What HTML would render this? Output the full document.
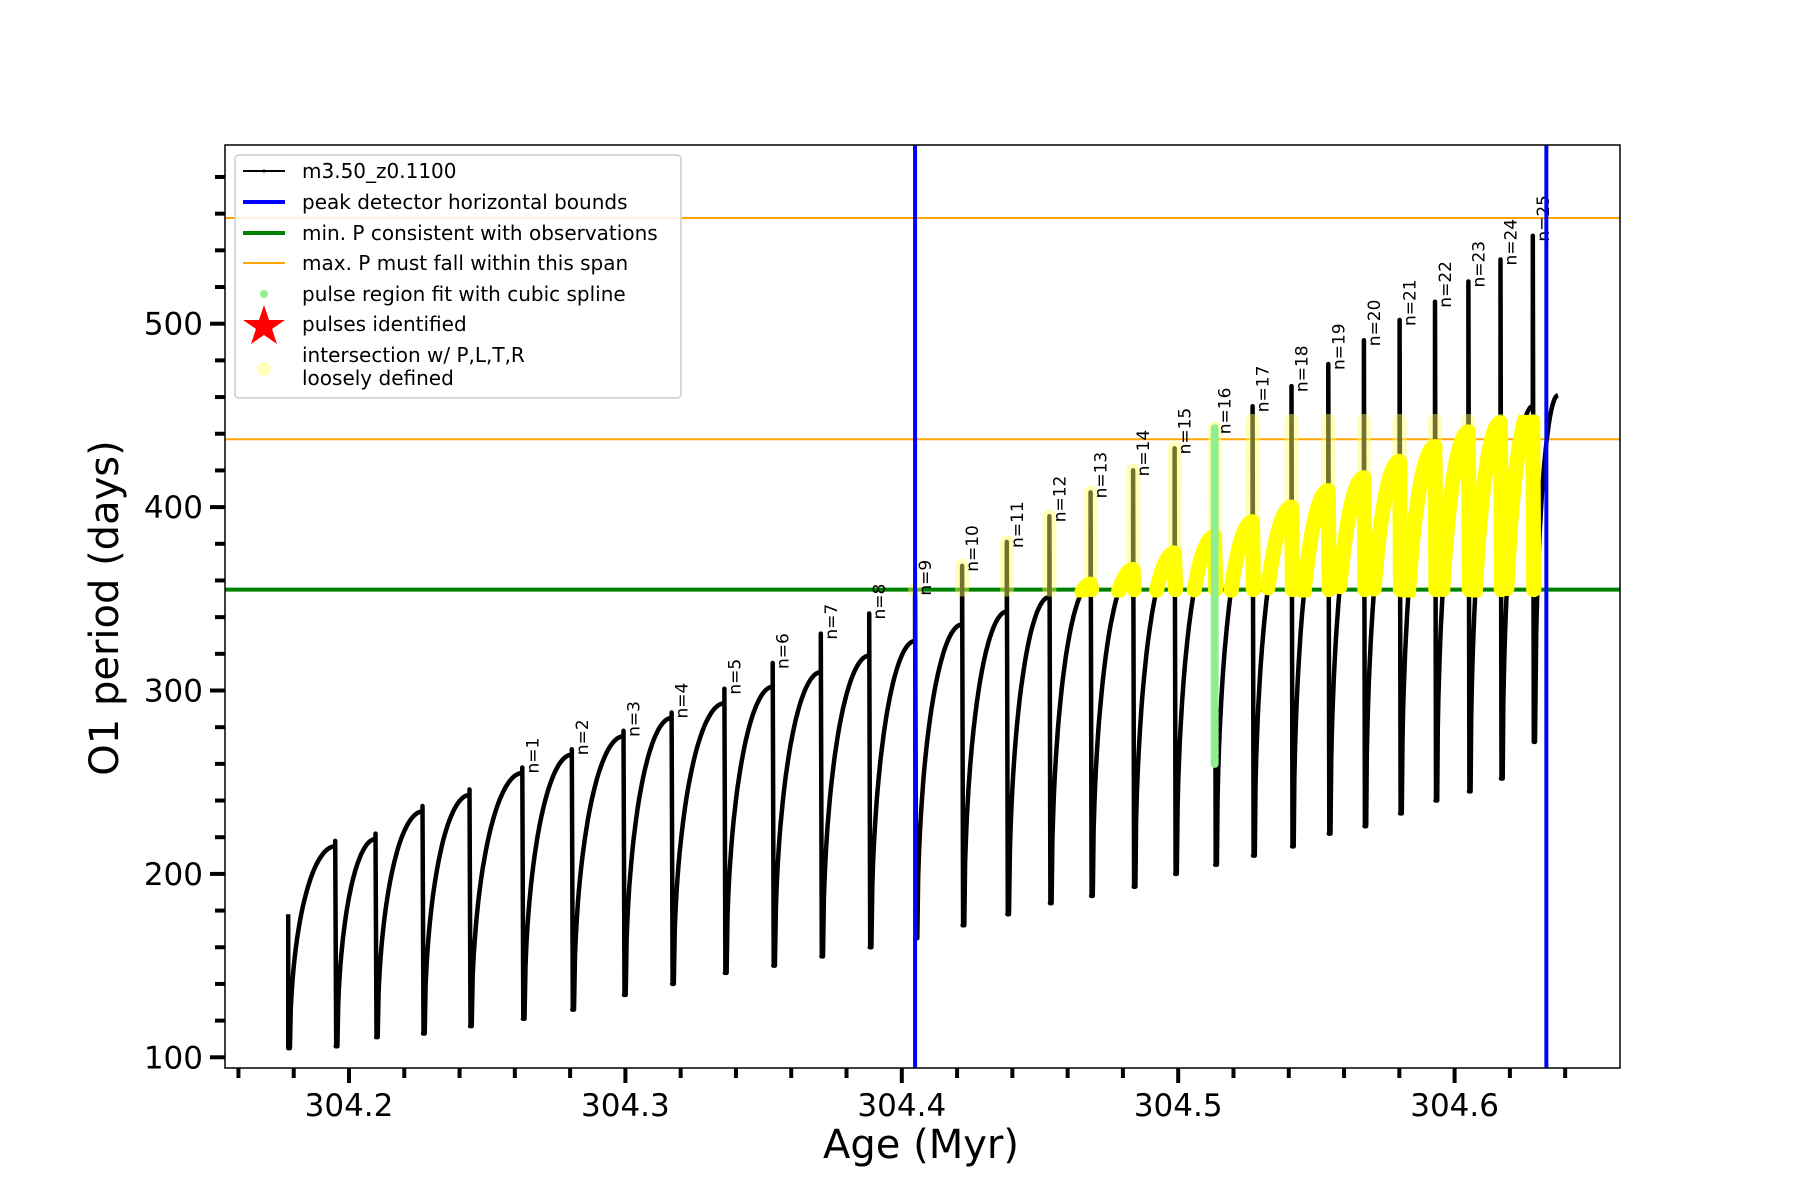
<!DOCTYPE html>
<html><head><meta charset="utf-8"><style>
html,body{margin:0;padding:0;background:#fff;}
svg{display:block;font-family:"DejaVu Sans","Liberation Sans",sans-serif;}
</style></head><body>
<svg id="chart" width="1800" height="1200" viewBox="0 0 1800 1200">
<defs><clipPath id="plotclip"><rect x="225" y="145" width="1395" height="923"/></clipPath>
<clipPath id="yclip"><rect x="0" y="0" width="1800" height="1"/></clipPath></defs>
<rect x="0" y="0" width="1800" height="1200" fill="#fff"/>
<g id="plot" clip-path="url(#plotclip)"></g>
<g id="axes"></g>
</svg>
<script>
const dropAges=[304.1950,304.2096,304.2266,304.2436,304.2627,304.2806,304.2993,304.3167,304.3358,304.3533,304.3707,304.3882,304.4048,304.4218,304.4380,304.4534,304.4683,304.4837,304.4987,304.5132,304.5269,304.5410,304.5543,304.5672,304.5801,304.5929,304.6050,304.6166,304.6283];
const peakValues=[215,219,234,243,255,265,275,285,293,302,310,319,327,336,343,351,358,366,375,384,392,400,409,416,425,433,441,446,455];
const minValues=[106,111,113,117,121,126,134,140,146,150,155,160,165,172,178,184,188,193,200,205,210,215,222,226,233,240,245,252,272];
const spikeTops=[218,222,237,246,258,268,278,288,301,315,331,342,355,368,381,395,408,420,432,443,455,466,478,491,502,512,523,535,548];
const startAge=304.1780, startTop=178, startMin=105;
const endAge=304.6374, endValue=461;
const blueBounds=[304.4048,304.6332];
const greenLevel=355;
const orangeLevels=[437,557.6];
const xTicks=[304.2,304.3,304.4,304.5,304.6];
const yTicks=[100,200,300,400,500];
const splineAge=304.5132, splineRange=[260,443];

const X=a=>349+(a-304.2)*2764;
const Y=v=>1057.3-(v-100)*1.834;
const NS="http://www.w3.org/2000/svg";
function mk(tag,parent,attrs){const e=document.createElementNS(NS,tag);for(const k in attrs)e.setAttribute(k,attrs[k]);parent.appendChild(e);return e;}
const plot=document.getElementById('plot'), axes=document.getElementById('axes');
const L=225,R=1620,T=145,B=1068;

orangeLevels.forEach((v,i)=>{const l=mk('line',plot,{x1:L,x2:R,y1:Y(v),y2:Y(v),stroke:'#ffa500','stroke-width':2});

});
const gl=mk('line',plot,{x1:L,x2:R,y1:Y(greenLevel),y2:Y(greenLevel),stroke:'#008000','stroke-width':4});



const f=u=>Math.sqrt(1-Math.pow(1-u,2));
let pts=[];
let cycles=[];
let prevAge=startAge, prevMin=startMin;
pts.push([X(startAge),Y(startTop)]);
for(let i=0;i<dropAges.length;i++){
  const a0=prevAge+0.0006, a1=dropAges[i];
  let cyc=[];
  for(let k=0;k<=50;k++){const u=k/50;const a=a0+(a1-a0)*u;const v=prevMin+(peakValues[i]-prevMin)*f(u);cyc.push([X(a),Y(v),v]);}
  cycles.push(cyc);
  pts.push([X(prevAge),Y(prevMin)]);
  cyc.forEach(p=>pts.push([p[0],p[1]]));
  pts.push([X(a1),Y(spikeTops[i])]);
  pts.push([X(a1)+1,Y(minValues[i])]);
  prevAge=a1+0.0002; prevMin=minValues[i];
}
{const a0=prevAge+0.0006;for(let k=0;k<=20;k++){const u=k/20;pts.push([X(a0+(endAge-a0)*u),Y(prevMin+(endValue-prevMin)*f(u))]);}}
const bl=mk('polyline',plot,{points:pts.map(p=>p[0].toFixed(1)+','+p[1].toFixed(1)).join(' '),fill:'none',stroke:'#000','stroke-width':4.5,'stroke-linejoin':'round'});



for(let i=12;i<dropAges.length;i++){
  const top=Math.min(spikeTops[i],447);
  const r=mk('line',plot,{x1:X(dropAges[i]),x2:X(dropAges[i]),y1:Y(greenLevel),y2:Y(top),stroke:'#ffff66','stroke-opacity':0.45,'stroke-width':14,'stroke-linecap':'round'});
  
  
}
const ytop=Y(447), ybot=Y(greenLevel-1);
const yc=document.getElementById('yclip').firstChild;
yc.setAttribute('y',ytop-6);yc.setAttribute('height',ybot-ytop+12);yc.setAttribute('width',1800);
for(let i=16;i<cycles.length;i++){
  const seg=cycles[i].filter(p=>p[2]>=greenLevel-2&&p[2]<=450);
  if(seg.length<2)continue;
  const last=[X(dropAges[i]),Y(Math.min(peakValues[i],447))];
  const down=[X(dropAges[i])+1,Y(greenLevel)];
  const p=mk('polyline',plot,{points:seg.map(q=>q[0].toFixed(1)+','+q[1].toFixed(1)).join(' ')+' '+last.join(',')+' '+down.join(','),fill:'none',stroke:'#ffff00','stroke-width':15,'stroke-linejoin':'round','stroke-linecap':'round','clip-path':'url(#yclip)'});
  
  
}
const gs=mk('line',plot,{x1:X(splineAge),x2:X(splineAge),y1:Y(splineRange[0]),y2:Y(splineRange[1]),stroke:'#90ee90','stroke-width':8,'stroke-linecap':'round','stroke-dasharray':'6 3'});



for(let i=4;i<dropAges.length;i++){
  const n=i-3;const x=X(dropAges[i])+16, y=Y(Math.max(spikeTops[i],peakValues[i]))+6;
  const t=mk('text',plot,{x:x,y:y,transform:`rotate(-90 ${x} ${y})`,'font-size':17,fill:'#000'});
  t.textContent='n='+n;
  
  
}
blueBounds.forEach((a,i)=>{const l=mk('line',plot,{x1:X(a),x2:X(a),y1:T,y2:B,stroke:'#0000ff','stroke-width':4});

});

mk('rect',axes,{x:L,y:T,width:R-L,height:B-T,fill:'none',stroke:'#000','stroke-width':1.5});
for(let k=-2;k<=23;k++){const a=304.2+k*0.02;const x=X(a);if(x<L||x>R)continue;const major=k%5===0;
  mk('line',axes,{x1:x,x2:x,y1:B,y2:B+(major?15:10),stroke:'#000','stroke-width':4});}
xTicks.forEach(a=>{const t=mk('text',axes,{x:X(a),y:1116,'text-anchor':'middle','font-size':31});t.textContent=a.toFixed(1);

});
for(let v=100;v<=580;v+=20){const y=Y(v);if(y<T)continue;const major=v%100===0;
  mk('line',axes,{x1:L-(major?15:10),x2:L,y1:y,y2:y,stroke:'#000','stroke-width':4});}
yTicks.forEach(v=>{const t=mk('text',axes,{x:203,y:Y(v)+11,'text-anchor':'end','font-size':31});t.textContent=v;

});
</script>
<div style="position:absolute;left:0;top:0;width:1800px;height:1200px;pointer-events:none">
<svg width="1800" height="1200" style="position:absolute;left:0;top:0;font-family:'DejaVu Sans','Liberation Sans',sans-serif">
<text x="921" y="1158" text-anchor="middle" font-size="40">Age (Myr)</text>
<text x="118" y="608" text-anchor="middle" font-size="40" transform="rotate(-90 118 608)">O1 period (days)</text>
<g>
<rect x="235" y="155" width="446" height="243" rx="4" fill="#fff" fill-opacity="0.85" stroke="#ccc" stroke-width="1.5"/>
<g font-size="20" fill="#000">
<line x1="243" y1="171" x2="285" y2="171" stroke="#000" stroke-width="2"/><circle cx="264" cy="171" r="1.5"/>
<text x="302" y="178">m3.50_z0.1100</text>
<line x1="243" y1="202" x2="285" y2="202" stroke="#0000ff" stroke-width="4"/>
<text x="302" y="209">peak detector horizontal bounds</text>
<line x1="243" y1="233" x2="285" y2="233" stroke="#008000" stroke-width="4"/>
<text x="302" y="240">min. P consistent with observations</text>
<line x1="243" y1="263" x2="285" y2="263" stroke="#ffa500" stroke-width="2"/>
<text x="302" y="270">max. P must fall within this span</text>
<circle cx="264" cy="294" r="4" fill="#90ee90"/>
<text x="302" y="301">pulse region fit with cubic spline</text>
<polygon points="264,305 269,320 285,320 272,329 277,344 264,335 251,344 256,329 243,320 259,320" fill="#ff0000"/>
<text x="302" y="331">pulses identified</text>
<circle cx="264" cy="369" r="7" fill="#ffffbb"/>
<text x="302" y="362">intersection w/ P,L,T,R</text>
<text x="302" y="385">loosely defined</text>
</g></g>
</svg></div>
</body></html>
